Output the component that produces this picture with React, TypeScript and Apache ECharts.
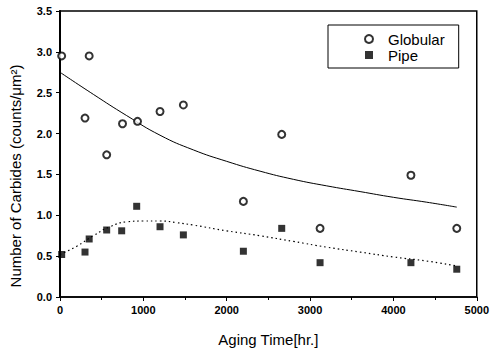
import React, { useEffect, useRef } from "react";
import * as echarts from "echarts";

const globularX = [20, 300, 350, 560, 750, 930, 1200, 1480, 2200, 2660, 3120, 4210, 4760];
const globularY = [2.95, 2.19, 2.95, 1.74, 2.12, 2.15, 2.27, 2.35, 1.17, 1.99, 0.84, 1.49, 0.84];
const pipeX = [20, 300, 350, 560, 740, 920, 1200, 1480, 2200, 2660, 3120, 4210, 4760];
const pipeY = [0.52, 0.55, 0.71, 0.82, 0.81, 1.11, 0.86, 0.76, 0.56, 0.84, 0.42, 0.42, 0.34];

const globFitX = [0, 400, 800, 1200, 1600, 2000, 2400, 2800, 3200, 3600, 4000, 4400, 4760];
const globFitY = [2.75, 2.48, 2.22, 1.98, 1.8, 1.66, 1.54, 1.44, 1.36, 1.29, 1.22, 1.16, 1.1];
const pipeFitX = [0, 200, 400, 600, 800, 1000, 1200, 1400, 1600, 2000, 2400, 2800, 3200, 3600, 4000, 4400, 4760];
const pipeFitY = [0.52, 0.62, 0.75, 0.86, 0.92, 0.93, 0.93, 0.91, 0.88, 0.81, 0.75, 0.68, 0.61, 0.55, 0.49, 0.44, 0.38];

const xTicks = [0, 1000, 2000, 3000, 4000, 5000];
const yTicks = [0, 0.5, 1, 1.5, 2, 2.5, 3, 3.5];

const FONT = "'Liberation Sans', Arial, sans-serif";

const zip = (xs: number[], ys: number[]) => xs.map((x, i) => [x, ys[i]]);

export default function App() {
  const ref = useRef<HTMLDivElement>(null);
  useEffect(() => {
    document.body.style.margin = "0";
    const chart = echarts.init(ref.current!, null, { renderer: "svg" });
    chart.setOption({
      animation: false,
      backgroundColor: "#fff",
      textStyle: { fontFamily: FONT, color: "#000" },
      grid: { left: 59, top: 11, right: 14, bottom: 53, show: true, borderColor: "#000", borderWidth: 1.5 },
      legend: {
        left: 328,
        top: 25,
        orient: "vertical",
        borderColor: "#000",
        borderWidth: 1,
        padding: [6, 14, 5, 36],
        itemWidth: 8,
        itemHeight: 8,
        itemGap: 0,
        textStyle: { fontSize: 15, fontFamily: FONT, color: "#000", lineHeight: 16, padding: [0, 0, 0, 10] },
        data: [
          { name: "Globular", icon: "emptyCircle" },
          { name: "Pipe", icon: "rect" },
        ],
      },
      xAxis: {
        type: "value",
        min: xTicks[0],
        max: xTicks[xTicks.length - 1],
        interval: 1000,
        name: "Aging Time[hr.]",
        nameLocation: "middle",
        nameGap: 35,
        nameTextStyle: { fontSize: 15, fontFamily: FONT, color: "#000" },
        axisLine: { lineStyle: { color: "#000", width: 1.5 } },
        axisTick: { show: true, length: 4, lineStyle: { color: "#000" } },
        minorTick: { show: true, splitNumber: 2, length: 3, lineStyle: { color: "#000" } },
        axisLabel: {
          fontSize: 11,
          fontWeight: "bold",
          color: "#000",
          margin: 7,
          fontFamily: FONT,
          formatter: (v: number) => String(v),
        },
        splitLine: { show: false },
      },
      yAxis: {
        type: "value",
        min: yTicks[0],
        max: yTicks[yTicks.length - 1],
        interval: 0.5,
        name: "Number of Carbides (counts/μm²)",
        nameLocation: "middle",
        nameGap: 37,
        nameRotate: 90,
        nameTextStyle: { fontSize: 15, fontFamily: FONT, color: "#000", padding: [0, 44, 0, 0] },
        axisLine: { lineStyle: { color: "#000", width: 2 } },
        axisTick: { show: true, length: 4, lineStyle: { color: "#000" } },
        axisLabel: {
          fontSize: 11,
          fontWeight: "bold",
          color: "#000",
          margin: 8,
          fontFamily: FONT,
          formatter: (v: number) => v.toFixed(1),
        },
        splitLine: { show: false },
      },
      series: [
        {
          name: "Globular",
          type: "scatter",
          symbol: "emptyCircle",
          symbolSize: 7,
          itemStyle: { color: "#000", borderColor: "#000", borderWidth: 0.8 },
          data: zip(globularX, globularY),
          z: 5,
        },
        {
          name: "Pipe",
          type: "scatter",
          symbol: "rect",
          symbolSize: 7,
          itemStyle: { color: "#000" },
          data: zip(pipeX, pipeY),
          z: 5,
        },
        {
          name: "Globular fit",
          type: "line",
          smooth: true,
          showSymbol: false,
          symbol: "none",
          lineStyle: { color: "#000", width: 1 },
          data: zip(globFitX, globFitY),
        },
        {
          name: "Pipe fit",
          type: "line",
          smooth: true,
          showSymbol: false,
          symbol: "none",
          lineStyle: { color: "#000", width: 1.2, type: [1.5, 3] },
          data: zip(pipeFitX, pipeFitY),
        },
      ],
    });
    return () => chart.dispose();
  }, []);
  return <div ref={ref} style={{ position: "absolute", left: 0, top: 0, width: 492, height: 352 }} />;
}
